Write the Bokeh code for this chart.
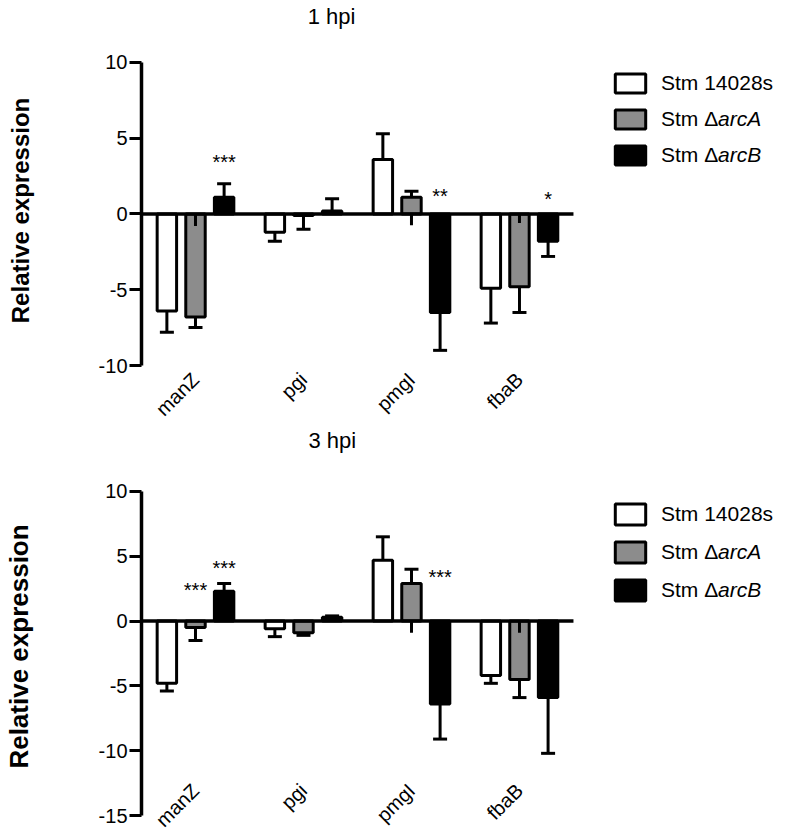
import math
from bokeh.plotting import figure
from bokeh.models import ColumnDataSource, FixedTicker, Legend, LegendItem, Range1d, Label
from bokeh.transform import dodge
from bokeh.layouts import column
from bokeh.embed import file_html
from bokeh.resources import INLINE
from bokeh.core.properties import value

FONT = "Liberation Sans"

genes = ["manZ", "pgi", "pmgI", "fbaB"]
series_labels = ["Stm 14028s", "Stm \u0394", "Stm \u0394"]
series_italic = [" ", "arcA", "arcB"]
colors = ["white", "#8c8c8c", "black"]

# ---- 1 hpi ----
hpi1_wt = [-6.4, -1.2, 3.6, -4.9]
hpi1_wt_err = [1.4, 0.6, 1.7, 2.3]
hpi1_arcA = [-6.8, -0.1, 1.1, -4.8]
hpi1_arcA_err = [0.7, 0.9, 0.4, 1.7]
hpi1_arcB = [1.1, 0.2, -6.5, -1.8]
hpi1_arcB_err = [0.9, 0.8, 2.5, 1.0]
hpi1_ticks = [-10, -5, 0, 5, 10]
hpi1_inner_genes = ["manZ", "pmgI", "fbaB"]
hpi1_inner_vals = [-0.8, -0.75, -0.6]
hpi1_star_genes = ["manZ", "pmgI", "fbaB"]
hpi1_star_series = [2, 2, 2]
hpi1_star_y = [3.4, 1.2, 1.0]
hpi1_star_text = ["***", "**", "*"]

# ---- 3 hpi ----
hpi3_wt = [-4.8, -0.6, 4.7, -4.2]
hpi3_wt_err = [0.6, 0.6, 1.8, 0.6]
hpi3_arcA = [-0.5, -0.9, 2.9, -4.5]
hpi3_arcA_err = [1.0, 0.2, 1.1, 1.4]
hpi3_arcB = [2.3, 0.3, -6.4, -5.9]
hpi3_arcB_err = [0.6, 0.1, 2.7, 4.3]
hpi3_ticks = [-15, -10, -5, 0, 5, 10]
hpi3_inner_genes = ["pmgI", "fbaB"]
hpi3_inner_vals = [-0.9, -0.9]
hpi3_star_genes = ["manZ", "manZ", "pmgI"]
hpi3_star_series = [1, 2, 2]
hpi3_star_y = [2.4, 4.1, 3.4]
hpi3_star_text = ["***", "***", "***"]

OFFSETS = [-0.265, 0.0, 0.265]
GROUP_PX = 108.5      # pixel width of one gene group
FIG_W = 778
BORDER_L = 138
X_END = -0.5 + (FIG_W - BORDER_L) / GROUP_PX
gidx = {g: i for i, g in enumerate(genes)}


def make_panel(means, errs, ticks, inner_genes, inner_vals,
               star_genes, star_series, star_y, star_text,
               height, border_top, y_start, y_end, xlabel_y, ylabel_size):
    p = figure(width=FIG_W, height=height,
               x_range=Range1d(-0.5, X_END), y_range=Range1d(y_start, y_end),
               x_axis_location=None, output_backend="svg", toolbar_location=None,
               min_border_left=BORDER_L, min_border_right=0,
               min_border_top=border_top, min_border_bottom=0)
    p.outline_line_color = None
    p.xgrid.visible = False
    p.ygrid.visible = False
    p.background_fill_color = "white"
    p.border_fill_color = "white"

    xs = list(range(len(genes)))
    bar_renderers = []
    for i, (vals, err) in enumerate(zip(means, errs)):
        ends = [v + (e if v >= 0 else -e) for v, e in zip(vals, err)]
        src = ColumnDataSource(dict(x=xs, val=vals, end=ends))
        xd = dodge("x", OFFSETS[i])
        r = p.vbar(x=xd, top="val", bottom=0, width=0.18, source=src,
                   fill_color=colors[i], line_color="black", line_width=3)
        p.segment(x0=xd, y0="val", x1=xd, y1="end", source=src,
                  line_color="black", line_width=3)
        p.scatter(x=xd, y="end", marker="dash", size=14, source=src,
                  line_color="black", line_width=3)
        bar_renderers.append(r)

    isrc = ColumnDataSource(dict(x=[gidx[g] for g in inner_genes], val=inner_vals,
                                 zero=[0.0] * len(inner_genes)))
    xg = dodge("x", OFFSETS[1])
    p.segment(x0=xg, y0="zero", x1=xg, y1="val", source=isrc,
              line_color="black", line_width=3)

    ssrc = ColumnDataSource(dict(
        x=[gidx[g] + OFFSETS[s] for g, s in zip(star_genes, star_series)],
        y=star_y, t=star_text))
    p.text(x="x", y="y", text="t", source=ssrc, text_align="center",
           text_baseline="middle", text_font=value(FONT),
           text_font_size="20px", text_color="black")

    # zero baseline across the gene groups only
    p.segment(x0=[-0.5], y0=[0], x1=[len(genes) - 0.5], y1=[0],
              line_color="black", line_width=3.5)

    # rotated category labels
    lsrc = ColumnDataSource(dict(x=xs, y=[xlabel_y] * len(genes), t=genes))
    p.text(x="x", y="y", text="t", source=lsrc, angle=math.pi / 4,
           text_align="right", text_baseline="middle",
           text_font=value(FONT), text_font_size="20px", text_color="black")

    ax = p.yaxis[0]
    ax.ticker = FixedTicker(ticks=ticks)
    ax.major_label_overrides = {t: str(t) for t in ticks}
    ax.bounds = (min(ticks), max(ticks))
    ax.axis_line_width = 3.5
    ax.axis_line_color = "black"
    ax.major_tick_line_width = 3
    ax.major_tick_line_color = "black"
    ax.major_tick_out = 12
    ax.major_tick_in = 0
    ax.minor_tick_out = 0
    ax.minor_tick_in = 0
    ax.major_label_standoff = 2
    ax.major_label_text_font = FONT
    ax.major_label_text_font_size = "20px"
    ax.major_label_text_color = "black"
    ax.axis_label = "Relative expression"
    ax.axis_label_text_font = FONT
    ax.axis_label_text_font_size = ylabel_size
    ax.axis_label_text_font_style = "bold"
    ax.axis_label_text_color = "black"
    ax.axis_label_standoff = 62
    return p, bar_renderers


def add_legends(p, bar_renderers, frame_h, glyph_h, spacing, legend_top):
    label_h = glyph_h + 1
    H = 3 * label_h + 2 * spacing
    vy = int(round(frame_h - legend_top - H))
    common = dict(padding=0, margin=0, border_line_color=None,
                  background_fill_alpha=0, glyph_height=glyph_h,
                  label_height=label_h, spacing=spacing,
                  label_text_font=FONT, label_text_font_size="21px",
                  label_text_color="black")
    leg1 = Legend(items=[LegendItem(label=lab, renderers=[r])
                         for lab, r in zip(series_labels, bar_renderers)],
                  location=(470, vy), glyph_width=38, label_standoff=12, **common)
    dummy = p.vbar(x=[], top=[], width=0.1, fill_alpha=0, line_alpha=0)
    leg2 = Legend(items=[LegendItem(label=lab, renderers=[dummy]) for lab in series_italic],
                  location=(470 + 38 + 12 + 57, vy), glyph_width=0, label_standoff=0,
                  label_text_font_style="italic", **common)
    p.add_layout(leg1)
    p.add_layout(leg2)


# ---------- top panel (1 hpi): frame covers the whole figure height ----------
p1, r1 = make_panel([hpi1_wt, hpi1_arcA, hpi1_arcB],
                    [hpi1_wt_err, hpi1_arcA_err, hpi1_arcB_err], hpi1_ticks,
                    hpi1_inner_genes, hpi1_inner_vals,
                    hpi1_star_genes, hpi1_star_series, hpi1_star_y, hpi1_star_text,
                    height=420, border_top=0, y_start=-13.63, y_end=14.09,
                    xlabel_y=-10.7, ylabel_size="24px")
p1.add_layout(Label(x=1.26, y=13.05, text="1 hpi", text_align="center",
                    text_baseline="middle", text_font=FONT, text_font_size="22px",
                    text_color="black"))
add_legends(p1, r1, frame_h=420, glyph_h=24, spacing=11, legend_top=70)

# ---------- bottom panel (3 hpi) ----------
p2, r2 = make_panel([hpi3_wt, hpi3_arcA, hpi3_arcB],
                    [hpi3_wt_err, hpi3_arcA_err, hpi3_arcB_err], hpi3_ticks,
                    hpi3_inner_genes, hpi3_inner_vals,
                    hpi3_star_genes, hpi3_star_series, hpi3_star_y, hpi3_star_text,
                    height=414, border_top=36, y_start=-16.46, y_end=12.54,
                    xlabel_y=-12.8, ylabel_size="26px")
p2.title.text = "3 hpi"
p2.title.text_font = FONT
p2.title.text_font_size = "22px"
p2.title.text_font_style = "normal"
p2.title.text_color = "black"
p2.title.align = "left"
p2.title.offset = 167
p2.title.standoff = 11
add_legends(p2, r2, frame_h=376, glyph_h=26, spacing=11, legend_top=42)

layout = column(p1, p2)
open("out.html", "w").write(file_html(layout, INLINE))
